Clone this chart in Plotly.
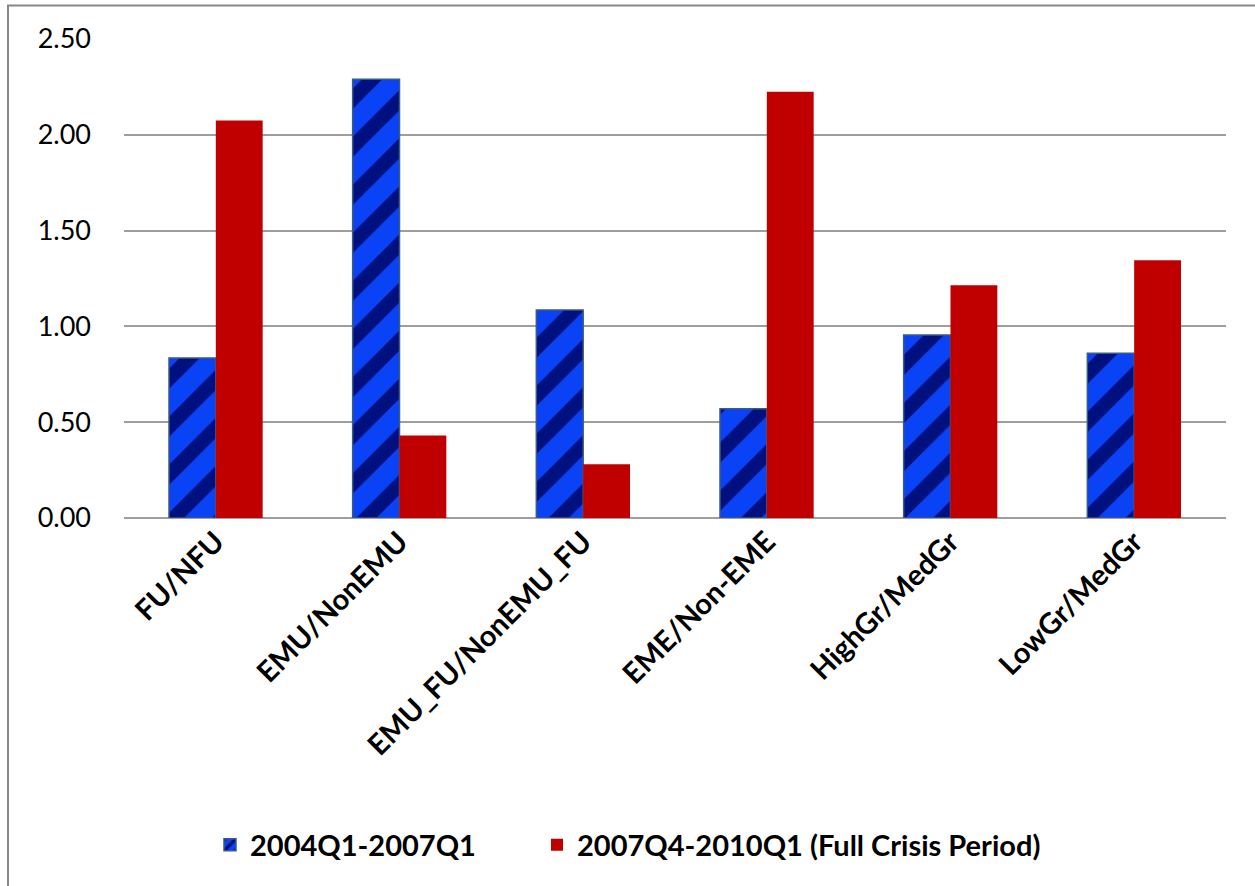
import plotly.graph_objects as go

# Ratios by country grouping, pre-crisis vs. full crisis period
categories = ["FU/NFU", "EMU/NonEMU", "EMU_FU/NonEMU_FU", "EME/Non-EME", "HighGr/MedGr", "LowGr/MedGr"]
pre_crisis = [0.835, 2.29, 1.085, 0.57, 0.955, 0.86]
full_crisis = [2.075, 0.43, 0.28, 2.225, 1.215, 1.345]
series_names = ["2004Q1-2007Q1", "2007Q4-2010Q1 (Full Crisis Period)"]
y_ticks = [0.0, 0.5, 1.0, 1.5, 2.0, 2.5]

W, H = 1255, 886
ML, MR, MT, MB = 124, 29, 39, 368
pw, ph = W - ML - MR, H - MT - MB

fig = go.Figure()
fig.add_trace(go.Bar(
    x=categories, y=pre_crisis, name=series_names[0], legend="legend",
    marker=dict(
        color="#0a3cf2",
        line=dict(color="#3b5a84", width=1.5),
        pattern=dict(shape="/", fgcolor="#00107e", bgcolor="#0a42f5",
                     size=34, solidity=0.42, fillmode="replace"),
    ),
))
fig.add_trace(go.Bar(
    x=categories, y=full_crisis, name=series_names[1], legend="legend2",
    marker=dict(color="#c00000", line=dict(width=0)),
))

# outer chart frame (cropped at right and bottom edges)
fig.add_shape(type="rect", xref="paper", yref="paper",
              x0=(8 - ML) / pw, x1=(W + 10 - ML) / pw,
              y0=(MT + ph - (H + 10)) / ph, y1=(MT + ph - 5.5) / ph,
              line=dict(color="#888888", width=2), fillcolor="rgba(0,0,0,0)",
              layer="below")

legend_font = dict(size=29, family="Lato", weight="bold", color="#000000")
legend_y = (MT + ph - 845) / ph

fig.update_layout(
    width=W, height=H,
    margin=dict(l=ML, r=MR, t=MT, b=MB),
    paper_bgcolor="white", plot_bgcolor="white",
    barmode="group", bargap=0.49, bargroupgap=0.0,
    font=dict(family="Lato, Open Sans, sans-serif", color="#000000"),
    xaxis=dict(
        tickangle=-45,
        tickfont=dict(size=29, family="Lato", weight="bold"),
        showgrid=False, showline=False, ticks="",
    ),
    yaxis=dict(
        range=[0, 2.5], tickvals=y_ticks, tickformat=".2f",
        tickfont=dict(size=27, family="Lato"),
        showgrid=True, gridcolor="#9e9e9e", gridwidth=2,
        zeroline=True, zerolinecolor="#9e9e9e", zerolinewidth=2,
        showline=False, ticks="", ticklabelstandoff=32,
    ),
    legend=dict(
        orientation="h", x=(210 - ML) / pw, xanchor="left",
        y=legend_y, yanchor="middle", font=legend_font, itemwidth=30,
    ),
    legend2=dict(
        orientation="h", x=(537 - ML) / pw, xanchor="left",
        y=legend_y, yanchor="middle", font=legend_font, itemwidth=30,
    ),
    showlegend=True,
)

fig.write_html("out.html")
